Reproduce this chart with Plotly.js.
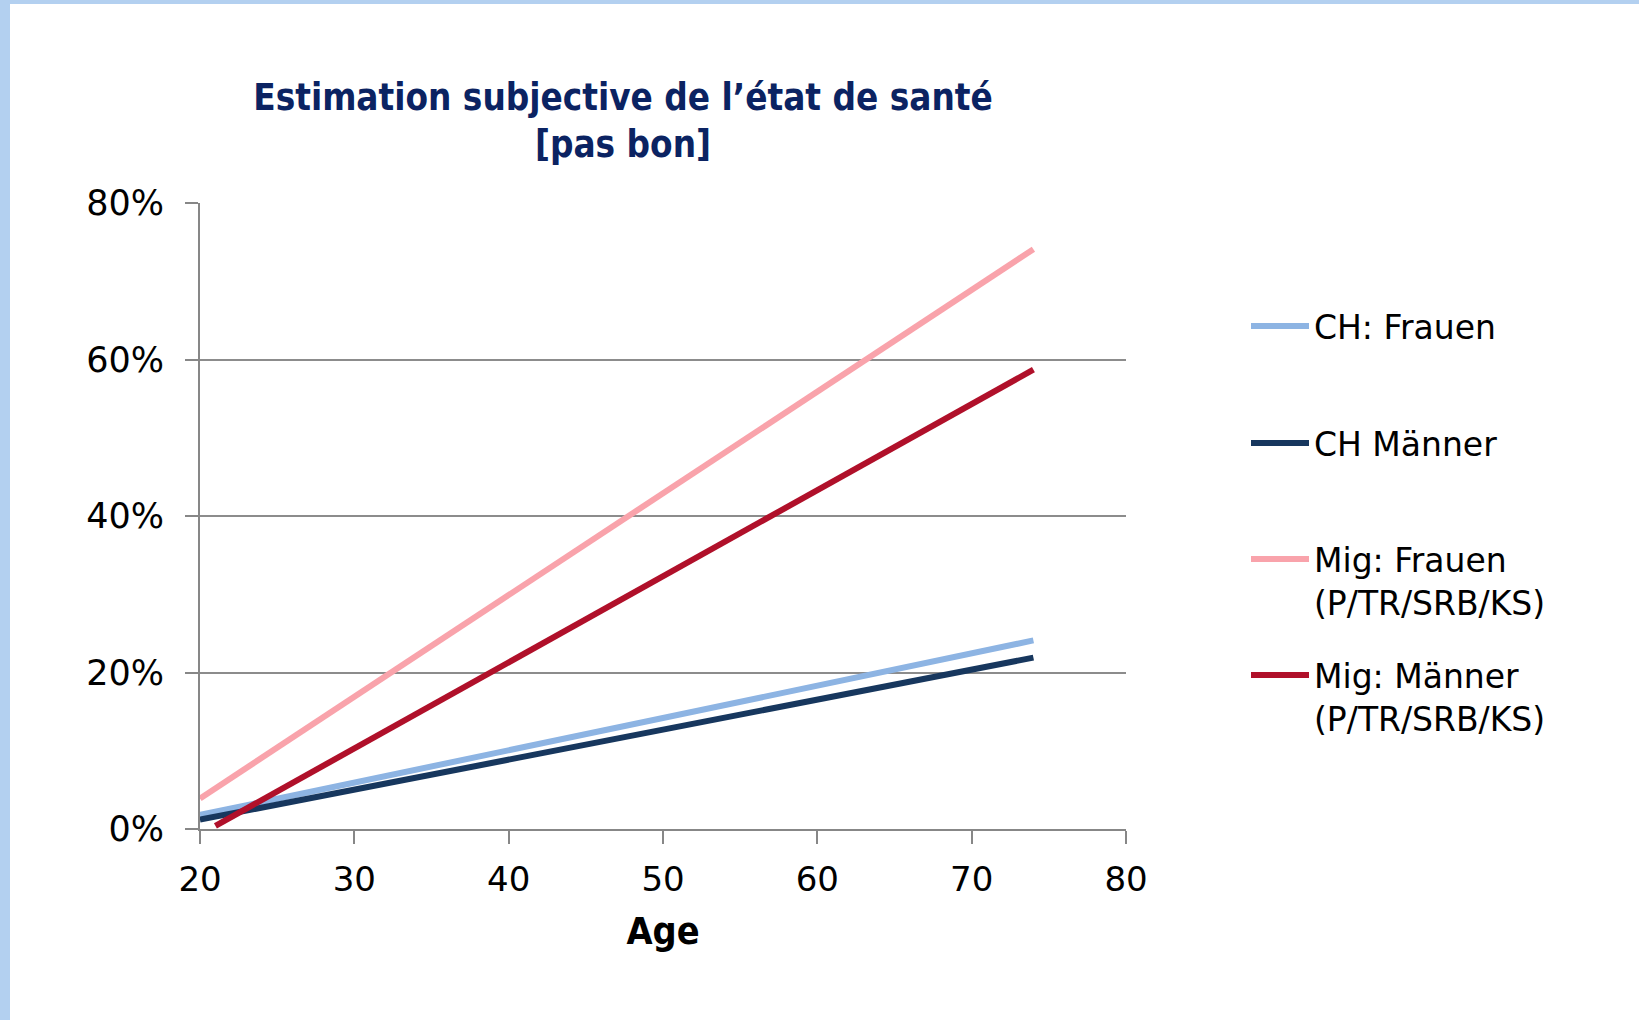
<!DOCTYPE html>
<html>
<head>
<meta charset="utf-8">
<script src="https://cdn.plot.ly/plotly-3.0.1.min.js"></script>
<style>
html,body{margin:0;padding:0;background:#fff;}
#chart{width:1639px;height:1020px;}
</style>
</head>
<body>
<div id="chart"></div>
<script>
// ---- data ----
const seriesNames = ["CH: Frauen", "CH Männer", "Mig: Frauen<br>(P/TR/SRB/KS)", "Mig: Männer<br>(P/TR/SRB/KS)"];
const chFrauenAge = [20, 74];
const chFrauenVal = [0.018, 0.241];
const chMaennerAge = [20, 74];
const chMaennerVal = [0.012, 0.219];
const migFrauenAge = [20, 74];
const migFrauenVal = [0.039, 0.741];
const migMaennerAge = [21, 74];
const migMaennerVal = [0.004, 0.587];
const xTickVals = [20, 30, 40, 50, 60, 70, 80];
const yTickVals = [0, 0.2, 0.4, 0.6, 0.8];
const yTickText = ["0%", "20%", "40%", "60%", "80%"];

// ---- layout geometry ----
const W = 1639, H = 1020;
const M = {l: 200, r: 513, t: 203, b: 191};
const PW = W - M.l - M.r, PH = H - M.t - M.b;
const px2x = p => (p - M.l) / PW;
const px2y = p => (H - M.b - p) / PH;

const colors = ["#8db4e3", "#17375e", "#f9a3ab", "#b0102a"];
const font = "DejaVu Sans, Verdana, sans-serif";
const boldFont = "DejaVu Sans Condensed, DejaVu Sans, sans-serif";

const ages = [chFrauenAge, chMaennerAge, migFrauenAge, migMaennerAge];
const vals = [chFrauenVal, chMaennerVal, migFrauenVal, migMaennerVal];
const legendIds = ["legend", "legend2", "legend3", "legend4"];

const traces = seriesNames.map((n, i) => ({
  type: "scatter", mode: "lines", name: n,
  x: ages[i], y: vals[i],
  line: {color: colors[i], width: 6},
  legend: legendIds[i],
  hoverinfo: "x+y+name"
}));

const legendY = [326, 443, 531, 647];
const legendBase = {
  x: px2x(1246), xanchor: "left", yanchor: "middle",
  font: {family: font, size: 33, color: "#000"},
  bgcolor: "rgba(0,0,0,0)", borderwidth: 0, itemwidth: 58,
  valign: "top", tracegroupgap: 0
};

const layout = {
  width: W, height: H,
  margin: M,
  paper_bgcolor: "#fff", plot_bgcolor: "#fff",
  font: {family: font, color: "#000"},
  title: {
    text: "Estimation subjective de l’état de santé<br>[pas bon]",
    font: {family: boldFont, size: 36.5, color: "#0b2362", weight: "bold"},
    x: 623 / W, xanchor: "center", xref: "container",
    y: 1 - 110 / H, yanchor: "middle", yref: "container"
  },
  xaxis: {
    range: [20, 80], tickvals: xTickVals, ticktext: xTickVals.map(String),
    ticks: "outside", ticklen: 13, tickwidth: 2, tickcolor: "#878787",
    showline: true, linecolor: "#878787", linewidth: 2,
    showgrid: false, zeroline: false,
    tickfont: {family: font, size: 34, color: "#000"},
    ticklabelstandoff: 6,
    title: {text: "Age", font: {family: boldFont, size: 37.5, weight: "bold", color: "#000"}, standoff: 20},
    fixedrange: true
  },
  yaxis: {
    range: [0, 0.8], tickvals: yTickVals, ticktext: yTickText,
    ticks: "outside", ticklen: 13, tickwidth: 2, tickcolor: "#878787",
    showline: true, linecolor: "#878787", linewidth: 2,
    showgrid: true, gridcolor: "#8c8c8c", gridwidth: 2, zeroline: false,
    tickfont: {family: font, size: 35, color: "#000"},
    ticklabelstandoff: 14,
    fixedrange: true
  },
  legend: Object.assign({}, legendBase, {y: px2y(legendY[0])}),
  legend2: Object.assign({}, legendBase, {y: px2y(legendY[1])}),
  legend3: Object.assign({}, legendBase, {y: px2y(legendY[2]), yanchor: "top"}),
  legend4: Object.assign({}, legendBase, {y: px2y(legendY[3]), yanchor: "top"}),
  showlegend: true,
  shapes: [
    {type: "rect", xref: "paper", yref: "paper", x0: px2x(0), x1: px2x(W), y0: px2y(4), y1: px2y(0), fillcolor: "#b3d0f0", line: {width: 0}, layer: "below"},
    {type: "rect", xref: "paper", yref: "paper", x0: px2x(0), x1: px2x(10), y0: px2y(H), y1: px2y(0), fillcolor: "#b3d0f0", line: {width: 0}, layer: "below"}
  ]
};

Plotly.newPlot("chart", traces, layout, {displayModeBar: false});
</script>
</body>
</html>
